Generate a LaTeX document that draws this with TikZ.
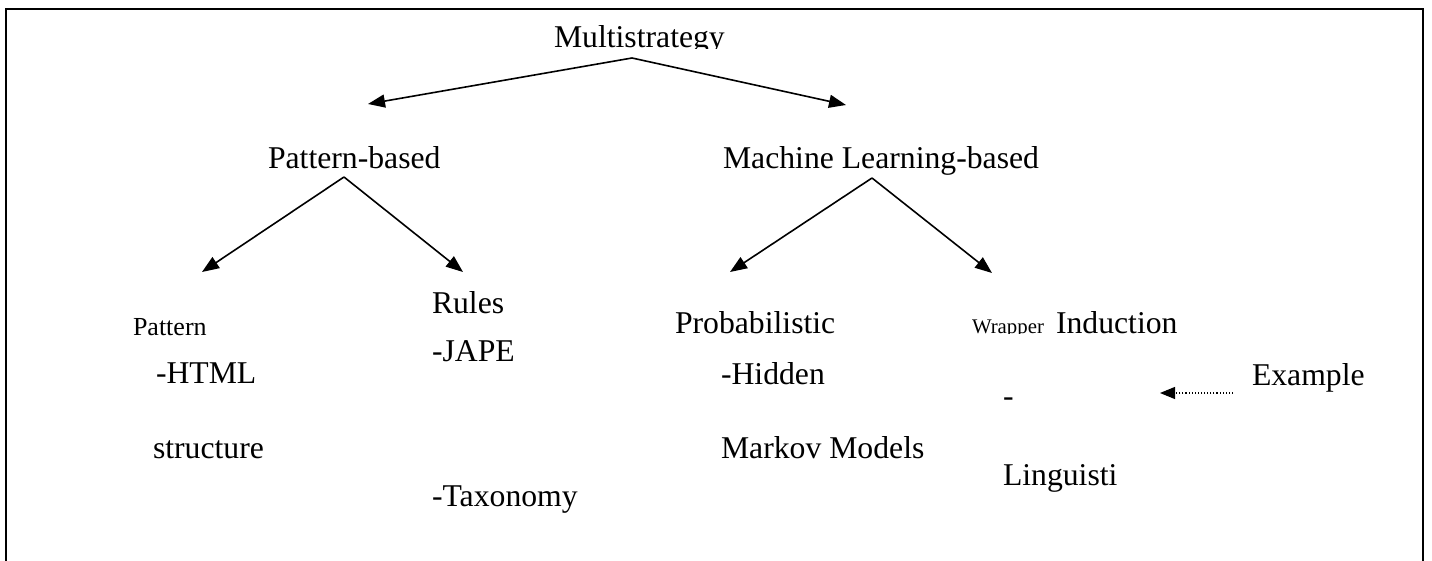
\documentclass[tikz,border=0pt]{standalone}
\usepackage{fontspec}
\setmainfont{Liberation Serif}
\usetikzlibrary{arrows.meta}
\begin{document}
\begin{tikzpicture}[x=1pt,y=-1pt,
  txt/.style={inner sep=0pt,outer sep=0pt,anchor=base west,font=\fontsize{31.7}{36}\selectfont},
  smalltxt/.style={txt,font=\fontsize{26}{30}\selectfont},
  tinytxt/.style={txt,font=\fontsize{20.8}{24}\selectfont},
  arr/.style={line width=1.6pt,-{Triangle[length=17pt,width=13pt]}},
  dotarr/.style={line width=1.1pt,dotted,-{Triangle[length=15pt,width=12pt]}},
  frame/.style={line width=2.6pt}]
\useasboundingbox (0,0) rectangle (1432,561);
\draw[frame] (6,561) -- (6,9) -- (1423,9) -- (1423,561);

% top level (bottom of text clipped)
\begin{scope}
  \clip (0,0) rectangle (1432,49);
  \node[txt] (ms) at (554,48) {Multistrategy};
\end{scope}

\node[txt] (pb) at (268,169) {Pattern-based};
\node[txt] (ml) at (723,169) {Machine Learning-based};

% third level
\node[smalltxt] (pat) at (133,335) {Pattern};
\node[txt] (html) at (156,383) {-HTML};
\node[txt] (struct) at (153,458) {structure};

\node[txt] (rules) at (432,313) {Rules};
\node[txt] (jape) at (432,361) {-JAPE};
\node[txt] (tax) at (432,506) {-Taxonomy};

\begin{scope}
  \clip (0,0) rectangle (1432,333);
  \node[txt] (prob) at (675,334) {Probabilistic};
  \node[tinytxt] (wrap) at (972,334) {Wrapper};
\end{scope}
\node[txt] (ind) at (1056,333) {Induction};
\node[txt] (hid) at (721,384) {-Hidden};
\node[txt] (markov) at (721,458) {Markov Models};
\node[txt] (dash) at (1003,406) {-};
\node[txt] (ling) at (1003,485) {Linguisti};
\node[txt] (ex) at (1252,385) {Example};

% connector points
\coordinate (msApex) at (632,58);
\coordinate (pbTip) at (368,104);
\coordinate (mlTip) at (846,105);
\coordinate (pbApex) at (344,177);
\coordinate (patTip) at (202,272);
\coordinate (rulesTip) at (463,272);
\coordinate (mlApex) at (872,178);
\coordinate (probTip) at (730,272);
\coordinate (wrapTip) at (992,273);
\coordinate (exTail) at (1233,393);
\coordinate (exTip) at (1160,393);

\draw[arr] (msApex) -- (pbTip);
\draw[arr] (msApex) -- (mlTip);
\draw[arr] (pbApex) -- (patTip);
\draw[arr] (pbApex) -- (rulesTip);
\draw[arr] (mlApex) -- (probTip);
\draw[arr] (mlApex) -- (wrapTip);
\draw[dotarr] (exTail) -- (exTip);
\end{tikzpicture}
\end{document}
